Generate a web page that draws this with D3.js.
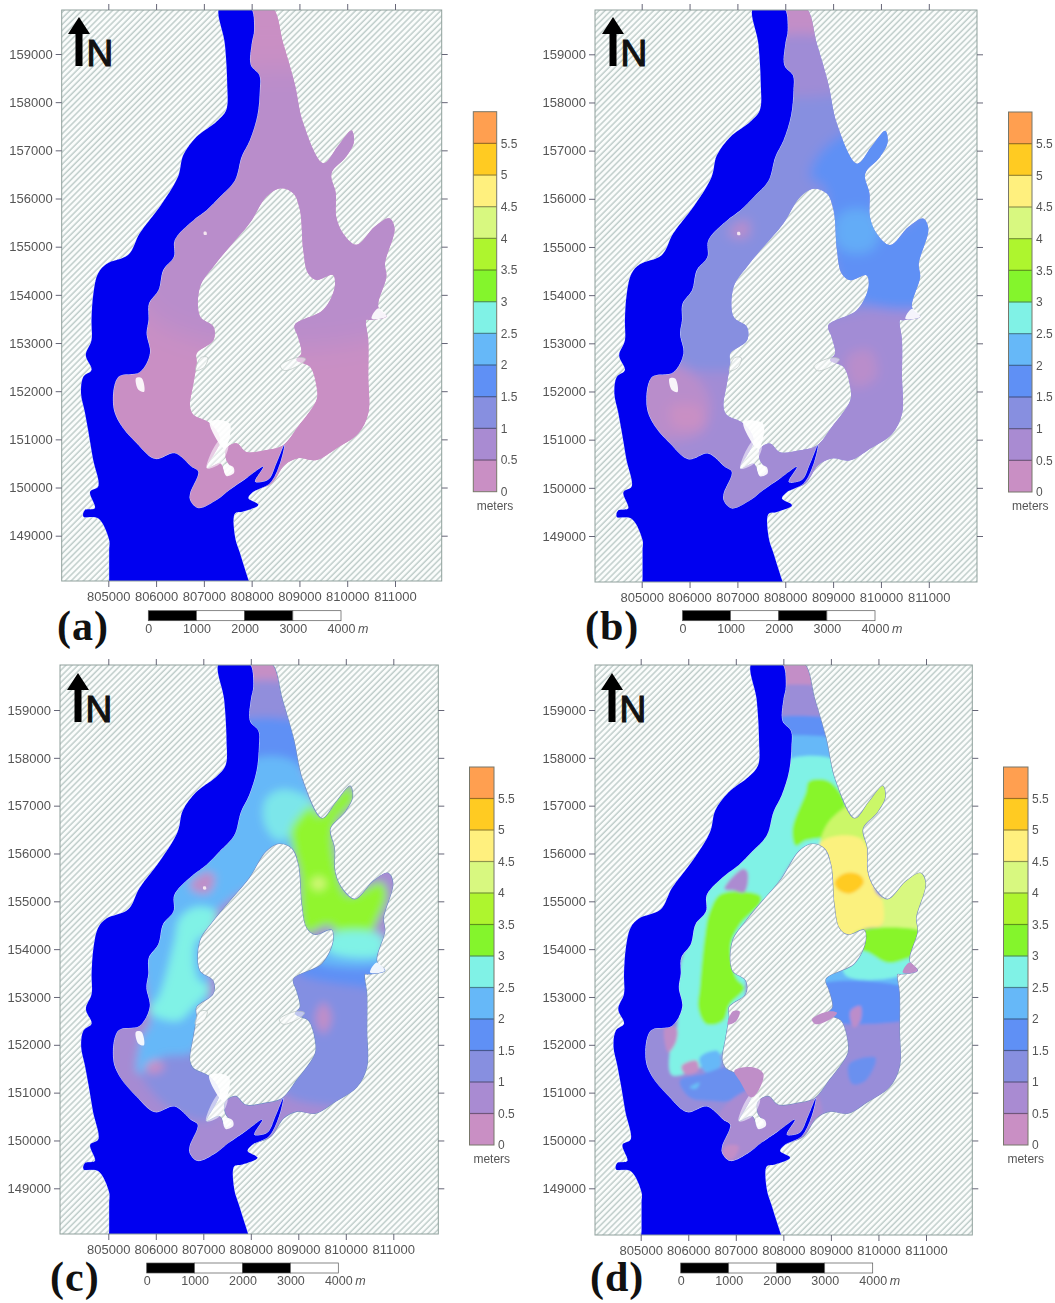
<!DOCTYPE html>
<html>
<head>
<meta charset="utf-8">
<script src="https://cdn.jsdelivr.net/npm/d3@7"></script>
<style>
  body { margin: 0; background: #fff; }
  text { font-family: "Liberation Sans", Arial, sans-serif; fill: #555; }
</style>
</head>
<body>
<div id="vis"></div>
<script>
// Map grid (easting / northing in metres) and tick lists
const EAST_TICKS = [805000, 806000, 807000, 808000, 809000, 810000, 811000];
const NORTH_TICKS = [149000, 150000, 151000, 152000, 153000, 154000, 155000, 156000, 157000, 158000, 159000];
const SCALE_TICKS = [0, 1000, 2000, 3000, 4000];
const DEPTH_LEVELS = [0, 0.5, 1, 1.5, 2, 2.5, 3, 3.5, 4, 4.5, 5, 5.5, 6];
const DEPTH_MIDS = [0.25, 0.75, 1.25, 1.75, 2.25, 2.75, 3.25, 3.75, 4.25, 4.75, 5.25, 5.75];
const DEPTH_COLORS = ["#c98fc4", "#a98bd2", "#878fe0", "#5f90f5", "#66b8f8", "#80f2e6",
                      "#84f52c", "#aef52e", "#d8f880", "#fff07e", "#ffcb22", "#ff9f50"];

// River channel
const water = [[807335,159980],[807440,159220],[807490,158390],[807470,157840],[807270,157600],[806850,157280],
  [806570,156900],[806460,156450],[806080,155830],[805660,155280],[805420,154830],[804965,154640],[804790,154450],
  [804690,154030],[804650,153480],[804650,153060],[804530,152750],[804650,152440],[804480,152300],[804430,151960],
  [804510,151570],[804580,151190],[804680,150600],[804790,150020],[804620,149910],[804720,149570],[804510,149530],[804480,149400],[804790,149360],
  [805020,148910],[805020,148700],[805020,148400],[805020,148100],[805020,147900],[808000,147900],[807960,148000],[807860,148300],[807750,148650],[807650,148980],[807650,149460],[807820,149500],[808140,149640],
  [807930,149780],[808030,149910],[808380,150090],[808590,150500],[808680,150880],[808520,150500],[808350,150160],
  [808070,150120],[808240,150430],[807890,150190],[807540,149950],[807270,149740],[806880,149570],[806710,149740],
  [806710,149880],[806880,150330],[806740,150430],[806390,150710],[805980,150590],[805590,150920],[805240,151330],
  [805100,151710],[805210,152300],[805660,152400],[805870,152790],[805800,153200],[805840,153480],[805850,153820],
  [806050,154100],[806150,154520],[806370,154790],[806390,155140],[806780,155550],[807060,155760],[807340,156040],
  [807650,156380],[807790,156870],[807960,157210],[808120,157730],[808170,158250],[808160,158560],[807980,158770],
  [808000,159220],[808050,159500],[807960,159980]];

// Flooded plain, outer edge
const landOuter = [[808420,159980],[808660,159220],[808900,158390],[809080,157560],[809500,156730],[809800,157080],[810090,157410],
  [810140,157180],[809980,156870],[809670,156520],[809760,156110],[809770,155620],[809910,155280],[810190,155040],
  [810580,155420],[810880,155590],[810990,155380],[810790,154650],[810820,154380],[810650,153750],[810820,153550],
  [810470,153480],[810400,153480],[810440,153060],[810440,152300],[810440,151540],[810230,151120],[809770,150810],[809360,150570],
  [808970,150610],[808690,150470],[808420,150090],[808100,149950],[807540,149740],[807060,149460],[806780,149460],
  [806640,149740],[806780,150160],[806570,150430],[805870,150470],[805520,150920],[805030,151330],[804965,151710],
  [805100,152400],[805590,152510],[805770,152790],[805700,153200],[805770,153820],[805940,154100],[806050,154520],
  [806250,154790],[806290,155140],[806670,155550],[806950,155830],[807230,156110],[807540,156450],[807680,156870],
  [807860,157210],[808000,157730],[808070,158250],[808030,158560],[807890,158770],[807890,159220],[807860,159980]];

// The dry ground inside the ring
const lagoon = [[808590,156210],[808870,156110],[809010,155760],[809080,154930],[809180,154450],[809360,154310],
  [809700,154410],[809740,154170],[809500,153690],[808900,153370],[808970,153130],[809040,152790],[808940,152650],
  [809220,152510],[809360,152090],[809360,151820],[808970,151260],[808660,150880],[808310,150780],[807890,150740],
  [807680,150920],[807470,150810],[807470,150570],[807610,150360],[807470,150260],[807340,150500],[807060,150400],
  [807340,150990],[807130,151330],[806780,151510],[806710,151680],[806780,152160],[806850,152580],[806850,152790],
  [807200,153060],[807200,153340],[806920,153550],[806920,154170],[807200,154590],[807540,155000],[807960,155490],
  [808310,156040]];

// Small features
const patchWest = [[805580,152270],[805700,152270],[805750,151990],[805630,152030]];
const patchSouth = [[807130,151370],[807540,151330],[807440,150810],[807230,151060]];
const patchSouthWide = [[806970,151460],[807360,151530],[807580,151390],[807430,150970],[807320,150900],[807080,151250]];
const spotSouth = [[807420,150470],[807610,150430],[807630,150300],[807470,150240]];
const stripSouth = [[807060,150400],[807340,150990],[807510,150880],[807340,150500]];
const wedgeEast = [[810820,153550],[810650,153720],[810510,153510]];
const isletEast = [[808600,152530],[808960,152700],[809130,152670],[809030,152560],[808680,152430]];
const isletWest = [[806940,152700],[807080,152700],[807010,152500],[806830,152430]];
const gaugeSpot = [[807000,155310],[807050,155310],[807060,155250],[807000,155250]];

// Depth bands, one list per panel, painted in order (depth in metres)
const bandsA = [
  {depth: 0.5, ring: [[805870,158045],[811450,158045],[811450,153550],[805870,153550]]}
];
const bandsB = [
  {depth: 0.85, ring: [[804480,152160],[807270,152510],[808660,153480],[811450,153480],[811450,148360],[804480,148360]]},
  {depth: 0.5, ring: [[805030,152510],[805870,152510],[806430,151820],[806220,151120],[805030,151120]]},
  {depth: 0.2, ring: [[805600,151680],[806200,151700],[806280,151300],[805680,151260]]},
  {depth: 0.35, ring: [[807270,160120],[809360,160120],[809360,159220],[807270,159220]]},
  {depth: 0.9, ring: [[807270,159220],[809360,159220],[809360,158320],[807270,158320]]},
  {depth: 1.75, ring: [[809220,157350],[810400,157700],[810400,156660],[809910,155970],[810120,155280],[811170,155830],
    [811170,153890],[809910,153750],[809220,154170],[808940,155000],[808800,156250],[808520,156450],[808660,156870]]},
  {depth: 2.1, ring: [[809010,155350],[809150,155690],[809500,155800],[809840,155690],[809980,155350],[809840,154970],[809500,154860],[809150,154970]]},
  {depth: 0.4, ring: [[806810,155280],[807200,155550],[807200,155210]]},
  {depth: 0.5, ring: [[809290,152720],[809770,152860],[809910,152300],[809430,152090]]}
];
const bandsC = [
  {depth: 0.3, ring: [[807270,160120],[809360,160120],[809360,159430],[807270,159430]]},
  {depth: 1.1, ring: [[807270,159430],[809360,159430],[809360,158650],[807270,158650]]},
  {depth: 1.75, ring: [[807270,158650],[809360,158650],[809360,157910],[807270,157910]]},
  {depth: 1.3, ring: [[808800,153480],[811450,153480],[811450,151060],[809220,150780],[808590,151120],[808660,153480]]},
  {depth: 1.75, ring: [[808800,153790],[811450,153790],[811450,153130],[810400,153200],[809010,153480]]},
  {depth: 1.25, ring: [[805660,151610],[806780,151960],[807400,151190],[807130,150430],[806150,150780]]},
  {depth: 2.25, ring: [[805730,153890],[805870,152440],[805700,152160],[805610,151400],[805800,151470],[806150,151750],
    [806780,151850],[807060,152510],[807130,153480],[807130,154590],[808660,155830],[809290,156870],[808940,157910],
    [807680,157840],[806220,155280]]},
  {depth: 2.65, ring: [[808310,157130],[808660,157340],[809300,157100],[809400,156730],[808870,156450],[808730,156300],[808520,156300],[808280,156650]]},
  {depth: 2.75, ring: [[806390,154160],[806500,154640],[806850,154880],[807270,154780],[807130,154360],[806850,154160],
    [806880,153400],[807130,153190],[806780,152770],[806460,152500],[805870,152700],[806080,153050]]},
  {depth: 3.4, ring: [[808970,156720],[809290,156990],[809430,156790],[810050,157410],[810190,157150],[809770,156580],
    [809840,155610],[810050,155130],[810750,155400],[810860,155130],[810650,154570],[810470,154290],[809910,154290],
    [809640,154500],[809150,154360],[809010,155610],[808830,156440]]},
  {depth: 2.25, ring: [[809360,154030],[810750,153960],[810750,153690],[809360,153750]]},
  {depth: 2.75, ring: [[809640,154290],[810750,154290],[810750,153890],[809640,153960]]},
  {depth: 4.2, ring: [[809250,155370],[809430,155520],[809600,155370],[809430,155220]]},
  {depth: 0.4, ring: [[806710,155330],[807060,155610],[807230,155540],[807130,155190],[806850,155190]]},
  {depth: 0.4, ring: [[809360,152560],[809530,152890],[809700,152560],[809530,152230]]},
  {depth: 0.3, ring: [[805770,151510],[805980,151680],[806190,151540],[805940,151390]]}
];
const bandsD = [
  {depth: 0.35, ring: [[807270,160120],[809360,160120],[809360,159350],[807270,159350]]},
  {depth: 0.95, ring: [[807270,159350],[809360,159350],[809360,158720],[807270,158720]]},
  {depth: 1.75, ring: [[807270,158720],[809360,158720],[809360,158310],[807270,158310]]},
  {depth: 2.25, ring: [[807270,158310],[809360,158310],[809360,157820],[807270,157910]]},
  {depth: 2.75, ring: [[807960,157910],[809360,157820],[809430,156520],[808310,155970],[807680,154860],[807270,153890],
    [807130,152510],[806710,151820],[806290,151540],[805660,151370],[805610,151820],[805770,152370],[805800,153480],[806430,155280]]},
  {depth: 2.25, ring: [[806240,151730],[806620,151870],[806690,151560],[806380,151420]]},
  {depth: 0.3, ring: [[805860,151560],[806170,151670],[806210,151460],[805930,151390]]},
  {depth: 1.6, ring: [[805820,151250],[806310,151390],[806940,151530],[807220,151040],[806870,150830],[806450,150830],[806030,150900]]},
  {depth: 2.3, ring: [[806030,151110],[806240,151210],[806170,151080]]},
  {depth: 0.4, ring: [[805510,152360],[805750,152360],[805750,152080],[805580,151840]]},
  {depth: 2.25, ring: [[808700,153460],[809520,153780],[810350,153460],[811000,153460],[811000,153060],[808700,153220]]},
  {depth: 1.75, ring: [[808700,153220],[811000,153060],[811000,152670],[809660,152430],[808800,152560]]},
  {depth: 1.6, ring: [[809380,151600],[809940,151730],[809730,151250],[809450,151180]]},
  {depth: 0.45, ring: [[809410,152700],[809620,152810],[809620,152500],[809480,152360]]},
  {depth: 0.75, ring: [[807270,151060],[808660,151060],[808660,149740],[806570,149320],[806570,150430]]},
  {depth: 0.35, ring: [[806780,149880],[807060,149880],[806920,149600],[806710,149670]]},
  {depth: 3.3, ring: [[806350,154290],[806450,154780],[806690,155160],[807500,155130],[807530,154990],[807080,154500],
    [806900,154090],[807010,153400],[807180,153190],[806870,152840],[806730,152500],[806380,152430],[806210,152770],[806240,153190]]},
  {depth: 3.3, ring: [[808190,156510],[808470,157270],[808540,157510],[808960,157510],[809310,156990],[808960,156580],[808890,156370],[808470,156270],[808260,156160]]},
  {depth: 4.1, ring: [[808900,156580],[809310,156990],[810050,157490],[810330,157490],[810050,156660],[809900,156100],[808800,156100]]},
  {depth: 4.25, ring: [[810070,155060],[811100,155690],[811100,154450],[810800,154250],[809500,154360],[810070,154500]]},
  {depth: 4.7, ring: [[808800,156250],[809650,156300],[809950,155190],[810070,155060],[810070,154500],[809730,154430],[809310,154200],[808800,154300],[808700,155540]]},
  {depth: 3.3, ring: [[809500,154330],[811000,154330],[811000,153910],[810210,153710],[809500,153950]]},
  {depth: 2.75, ring: [[809300,153950],[809730,153950],[810210,153710],[810900,153880],[810500,153460],[809300,153460]]},
  {depth: 5.25, ring: [[809080,155390],[809200,155540],[809410,155600],[809620,155540],[809690,155400],[809550,155230],[809380,155160],[809170,155230]]},
  {depth: 0.7, ring: [[806760,155260],[807150,155680],[807250,155610],[807180,155190],[806940,155230]]}
];

const WIDTH = 1055;
const HEIGHT = 1303;

const PANELS = [
  {id: "a", frame: [61.7, 441.7, 10, 581], east: [108.3, 395], north: [54, 535.7], base: 0.25, bands: bandsA, blur: 12, edge: "none",
   bar: [473.3, 496.7, 111.7, 491.7], scale: [148.3, 341, 610.7, 620.7], arrow: [79, 17], tag: [57, 640]},
  {id: "b", frame: [595, 977, 10, 582], east: [641.7, 928.8], north: [54.3, 536], base: 1.25, bands: bandsB, blur: 6, edge: "none",
   bar: [1008.5, 1032, 112, 492], scale: [682.5, 875, 610.7, 620.7], arrow: [613, 17], tag: [585, 640]},
  {id: "c", frame: [60, 438.3, 665, 1234], east: [108.3, 393.3], north: [710, 1188.3], base: 0.8, bands: bandsC, blur: 4, edge: "#6f8cc4",
   bar: [469.5, 494, 767, 1145], scale: [146.7, 338.3, 1263, 1273], arrow: [78, 673], tag: [50, 1291]},
  {id: "d", frame: [595, 972.3, 665, 1235], east: [640.7, 926], north: [710, 1188.3], base: 1, bands: bandsD, blur: 1.6, edge: "#7a8fc0",
   bar: [1003.5, 1028, 767, 1145], scale: [680.7, 872.7, 1263, 1273], arrow: [612, 673], tag: [590, 1291]}
];

const DEPTH_COLOR = d3.scaleLinear().domain(DEPTH_MIDS).range(DEPTH_COLORS).clamp(true);

const FRAME = d3.select("#vis")
                .append("svg")
                  .attr("width", WIDTH)
                  .attr("height", HEIGHT)
                  .style("display", "block");

const DEFS = FRAME.append("defs");

// Hatch for the dry ground
const HATCH = DEFS.append("pattern")
                  .attr("id", "hatch")
                  .attr("patternUnits", "userSpaceOnUse")
                  .attr("width", 4.3)
                  .attr("height", 4.3)
                  .attr("patternTransform", "rotate(45)");
HATCH.append("rect").attr("width", 4.3).attr("height", 4.3).attr("fill", "#fbfdfc");
HATCH.append("line").attr("x1", 1).attr("x2", 1).attr("y1", 0).attr("y2", 4.3)
     .attr("stroke", "#c0cecb").attr("stroke-width", 1.5);

DEFS.append("filter").attr("id", "soft").append("feGaussianBlur").attr("stdDeviation", 0.6);
DEFS.append("filter").attr("id", "softText").append("feGaussianBlur").attr("stdDeviation", 0.35);

function ring_path(ring, xScale, yScale) {
  return d3.line().curve(d3.curveCatmullRomClosed.alpha(0.5))
           .x((d) => xScale(d[0])).y((d) => yScale(d[1]))(ring);
}

function draw_panel(p) {
  const X_SCALE = d3.scaleLinear().domain([805000, 811000]).range(p.east);
  const Y_SCALE = d3.scaleLinear().domain([159000, 149000]).range(p.north);
  const path = (ring) => ring_path(ring, X_SCALE, Y_SCALE);
  const [left, right, top, bottom] = p.frame;
  const landPath = path(landOuter) + path(lagoon);

  DEFS.append("clipPath").attr("id", "frame-" + p.id)
      .append("rect").attr("x", left).attr("y", top).attr("width", right - left).attr("height", bottom - top);
  DEFS.append("clipPath").attr("id", "land-" + p.id)
      .append("path").attr("d", landPath).attr("clip-rule", "evenodd");
  DEFS.append("filter").attr("id", "bands-" + p.id)
      .attr("x", "-10%").attr("y", "-10%").attr("width", "120%").attr("height", "120%")
      .append("feGaussianBlur").attr("stdDeviation", p.blur);

  const MAP = FRAME.append("g").attr("clip-path", "url(#frame-" + p.id + ")")
                   .append("g").attr("filter", "url(#soft)");

  MAP.append("rect").attr("x", left - 3).attr("y", top - 3)
     .attr("width", right - left + 6).attr("height", bottom - top + 6)
     .attr("fill", "url(#hatch)");

  // land with its depth bands
  MAP.append("path").attr("d", landPath).attr("fill-rule", "evenodd")
     .attr("fill", DEPTH_COLOR(p.base))
     .attr("stroke", p.edge).attr("stroke-width", 1.2);

  const BANDS = MAP.append("g").attr("clip-path", "url(#land-" + p.id + ")")
                   .append("g").attr("filter", "url(#bands-" + p.id + ")");
  BANDS.append("rect").attr("x", left).attr("y", top).attr("width", right - left).attr("height", bottom - top)
       .attr("fill", DEPTH_COLOR(p.base));
  BANDS.selectAll("path.band")
       .data(p.bands)
       .enter()
       .append("path")
         .attr("class", "band")
         .attr("d", (d) => path(d.ring))
         .attr("fill", (d) => DEPTH_COLOR(d.depth));

  // small patches differ a bit from panel to panel
  let pale = [patchWest, patchSouth, spotSouth, wedgeEast];
  let mauve = [];
  if (p.id == "d") {
    pale = [spotSouth];
    mauve = [patchSouthWide, isletEast, isletWest, wedgeEast];
  }
  MAP.append("path").attr("d", path(stripSouth)).attr("fill", "#fff").attr("fill-opacity", 0.55);
  MAP.selectAll("path.pale").data(pale).enter().append("path").attr("class", "pale")
     .attr("d", path).attr("fill", "#fff").attr("fill-opacity", 0.9);
  MAP.selectAll("path.mauve").data(mauve).enter().append("path").attr("class", "mauve")
     .attr("d", path).attr("fill", DEPTH_COLOR(0.4));
  if (p.id != "d") {
    MAP.selectAll("path.islet").data([isletEast, isletWest]).enter().append("path").attr("class", "islet")
       .attr("d", path).attr("fill", "#fff").attr("fill-opacity", 0.5).attr("stroke", "#b6c2bf").attr("stroke-width", 0.7);
    MAP.append("path").attr("d", path(gaugeSpot)).attr("fill", "#f4e6f0");
  }

  // river
  MAP.append("path").attr("d", path(water))
     .attr("fill", "#0000f0")
     .attr("stroke", "#cfdcff").attr("stroke-width", 1);
  MAP.append("path").attr("d", path(water)).attr("fill", "#0000f0");

  // frame
  FRAME.append("rect").attr("x", left).attr("y", top)
       .attr("width", right - left).attr("height", bottom - top)
       .attr("fill", "none").attr("stroke", "#8fa09c").attr("stroke-width", 1);

  draw_axes(p, X_SCALE, Y_SCALE);
  draw_colorbar(p);
  draw_scalebar(p);
  draw_north(p);

  FRAME.append("text")
       .attr("x", p.tag[0]).attr("y", p.tag[1])
       .style("font-family", '"Liberation Serif", serif')
       .style("font-weight", "bold")
       .style("font-size", "42px")
       .style("letter-spacing", "1px")
       .style("fill", "#111")
       .text("(" + p.id + ")");
}

function draw_axes(p, X_SCALE, Y_SCALE) {
  const [left, right, top, bottom] = p.frame;
  const AXES = [
    {axis: d3.axisBottom(X_SCALE).tickValues(EAST_TICKS).tickFormat(d3.format("d")).tickPadding(5), at: [0, bottom]},
    {axis: d3.axisTop(X_SCALE).tickValues(EAST_TICKS).tickFormat(""), at: [0, top]},
    {axis: d3.axisLeft(Y_SCALE).tickValues(NORTH_TICKS).tickFormat(d3.format("d")).tickPadding(3), at: [left, 0]},
    {axis: d3.axisRight(Y_SCALE).tickValues(NORTH_TICKS).tickFormat(""), at: [right, 0]}
  ];
  AXES.forEach((a) => {
    const g = FRAME.append("g")
                   .attr("transform", "translate(" + a.at[0] + "," + a.at[1] + ")")
                   .call(a.axis.tickSize(6));
    g.select(".domain").remove();
    g.selectAll("line").attr("stroke", "#667");
    g.selectAll("text").style("font-size", "13px").attr("filter", "url(#softText)");
  });
}

function draw_colorbar(p) {
  const [x0, x1, y0, y1] = p.bar;
  const BAR_SCALE = d3.scaleLinear().domain([0, 6]).range([y1, y0]);
  const CBAR = FRAME.append("g");
  CBAR.selectAll("rect")
      .data(DEPTH_MIDS)
      .enter()
      .append("rect")
        .attr("x", x0)
        .attr("width", x1 - x0)
        .attr("y", (d) => BAR_SCALE(d + 0.25))
        .attr("height", (d) => BAR_SCALE(d - 0.25) - BAR_SCALE(d + 0.25))
        .attr("fill", (d) => DEPTH_COLOR(d));
  CBAR.selectAll("line")
      .data(DEPTH_LEVELS.slice(1, -1))
      .enter()
      .append("line")
        .attr("x1", x0).attr("x2", x1)
        .attr("y1", (d) => BAR_SCALE(d)).attr("y2", (d) => BAR_SCALE(d))
        .attr("stroke", (d) => d3.color(DEPTH_COLOR(d)).darker(1.4))
        .attr("stroke-width", 1.2);
  CBAR.append("rect").attr("x", x0).attr("y", y0).attr("width", x1 - x0).attr("height", y1 - y0)
      .attr("fill", "none").attr("stroke", "#77776a").attr("stroke-width", 1);

  const g = FRAME.append("g").attr("transform", "translate(" + x1 + ",0)")
                 .call(d3.axisRight(BAR_SCALE).tickValues(DEPTH_LEVELS.slice(0, -1)).tickSize(0).tickPadding(4).tickFormat(d3.format("")));
  g.select(".domain").remove();
  g.selectAll("text").style("font-size", "12px").attr("filter", "url(#softText)");

  FRAME.append("text")
       .attr("x", (x0 + x1) / 2 + 10).attr("y", y1 + 18)
       .attr("text-anchor", "middle")
       .style("font-size", "12px")
       .attr("filter", "url(#softText)")
       .text("meters");
}

function draw_scalebar(p) {
  const [x0, x1, y0, y1] = p.scale;
  const BAR_X = d3.scaleLinear().domain([0, 4000]).range([x0, x1]);
  const SB = FRAME.append("g");
  SB.selectAll("rect")
    .data(SCALE_TICKS.slice(0, -1))
    .enter()
    .append("rect")
      .attr("x", (d) => BAR_X(d))
      .attr("y", y0)
      .attr("width", (d) => BAR_X(d + 1000) - BAR_X(d))
      .attr("height", y1 - y0)
      .attr("fill", (d, i) => i % 2 == 0 ? "#000" : "#fff")
      .attr("stroke", "#555")
      .attr("stroke-width", 0.7);
  const g = FRAME.append("g").attr("transform", "translate(0," + y1 + ")")
                 .call(d3.axisBottom(BAR_X).tickValues(SCALE_TICKS).tickSize(0).tickPadding(3).tickFormat(d3.format("d")));
  g.select(".domain").remove();
  g.selectAll("text").style("font-size", "12.5px").attr("filter", "url(#softText)");
  FRAME.append("text")
       .attr("x", x1 + 17).attr("y", y1 + 12)
       .style("font-size", "12.5px")
       .style("font-style", "italic")
       .attr("filter", "url(#softText)")
       .text("m");
}

function draw_north(p) {
  const NORTH = FRAME.append("g").attr("transform", "translate(" + p.arrow[0] + "," + p.arrow[1] + ")");
  NORTH.append("path")
       .attr("d", "M0,0L11,17L3.5,17L3.5,49L-3.5,49L-3.5,17L-11,17Z")
       .attr("fill", "#000");
  NORTH.append("text")
       .attr("x", 7.5).attr("y", 49)
       .style("font-size", "37px")
       .style("fill", "#111")
       .style("stroke", "#111")
       .style("stroke-width", 1.2)
       .text("N");
}

PANELS.forEach(draw_panel);
</script>
</body>
</html>
